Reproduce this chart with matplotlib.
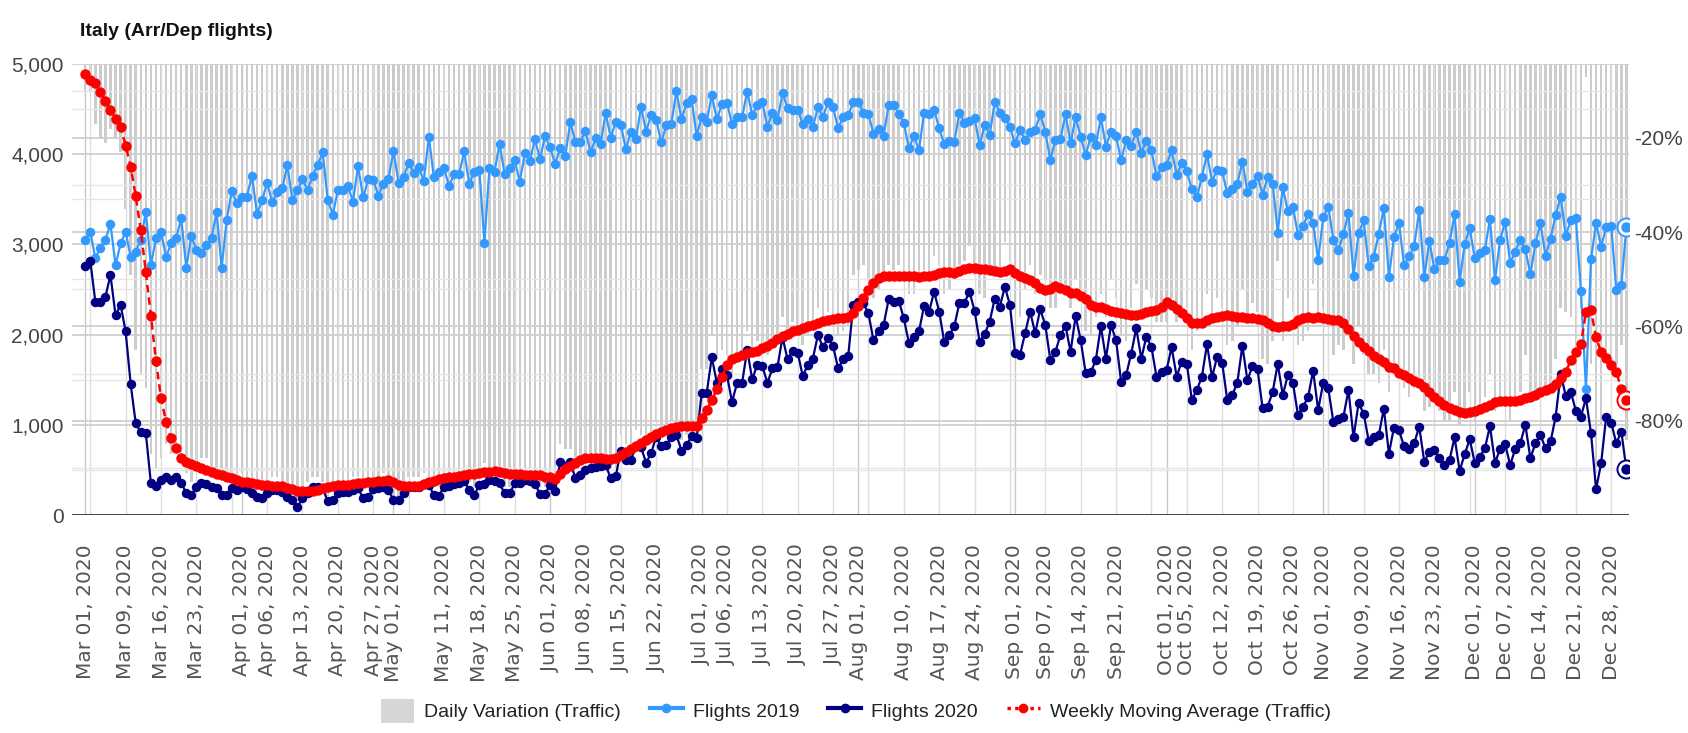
import numpy as np
import pandas as pd
import matplotlib
matplotlib.use('Agg')
import matplotlib.pyplot as plt
from matplotlib.lines import Line2D
from matplotlib.patches import Patch

narrow = ['Liberation Sans', 'DejaVu Sans']

# daily values from Mar 01, 2020 to Dec 31, 2020
start_day = '2020-03-01'

flights_2019 = [
    3050, 3140, 2850, 2960, 3050, 3230, 2770, 3010, 3140, 2860,
    2920, 3050, 3360, 2770, 3070, 3140, 2860, 3010, 3070, 3290,
    2740, 3090, 2940, 2900, 2990, 3070, 3360, 2740, 3270, 3590,
    3460, 3530, 3530, 3760, 3340, 3490, 3680, 3470, 3580, 3620,
    3880, 3490, 3600, 3720, 3600, 3760, 3880, 4020, 3490, 3330,
    3600, 3600, 3645, 3475, 3870, 3520, 3720, 3715, 3540, 3670,
    3720, 4040, 3685, 3750, 3900, 3790, 3855, 3705, 4190, 3745,
    3805, 3845, 3645, 3780, 3780, 4030, 3670, 3805, 3825, 3020,
    3845, 3805, 4115, 3780, 3845, 3935, 3695, 4010, 3930, 4165,
    3945, 4200, 4075, 3890, 4065, 3980, 4355, 4140, 4140, 4260,
    4020, 4175, 4115, 4455, 4185, 4360, 4325, 4055, 4250, 4165,
    4525, 4250, 4435, 4380, 4130, 4325, 4335, 4705, 4385, 4565,
    4610, 4200, 4415, 4360, 4655, 4385, 4555, 4570, 4335, 4410,
    4410, 4695, 4435, 4545, 4580, 4300, 4460, 4380, 4675, 4510,
    4490, 4495, 4335, 4385, 4300, 4520, 4410, 4580, 4520, 4285,
    4415, 4430, 4580, 4580, 4460, 4445, 4225, 4275, 4200, 4545,
    4545, 4445, 4350, 4065, 4200, 4045, 4460, 4445, 4495, 4285,
    4115, 4150, 4140, 4460, 4350, 4370, 4400, 4100, 4325, 4215,
    4580, 4460, 4400, 4305, 4120, 4270, 4155, 4250, 4270, 4445,
    4250, 3935, 4155, 4165, 4445, 4120, 4410, 4195, 3990, 4195,
    4100, 4410, 4085, 4250, 4200, 3935, 4155, 4090, 4250, 4010,
    4150, 4045, 3755, 3855, 3880, 4045, 3770, 3900, 3815, 3610,
    3520, 3750, 4000, 3695, 3830, 3815, 3565, 3610, 3670, 3915,
    3585, 3670, 3760, 3550, 3745, 3675, 3130, 3635, 3365, 3420,
    3105, 3205, 3335, 3235, 2825, 3300, 3420, 3050, 2940, 3115,
    3350, 2650, 3125, 3265, 2760, 2865, 3115, 3405, 2635, 3080,
    3240, 2770, 2870, 2980, 3380, 2635, 3040, 2725, 2825, 2825,
    3020, 3335, 2585, 3005, 3180, 2845, 2900, 2940, 3280, 2600,
    3050, 3250, 2795, 2920, 3050, 2945, 2670, 3010, 3235, 2870,
    3065, 3325, 3530, 3095, 3270, 3290, 2485, 1395, 2835, 3240,
    2975, 3190, 3205, 2495, 2550, 3190,
]

flights_2020 = [
    2760, 2820, 2365, 2365, 2420, 2660, 2215, 2330, 2035, 1450,
    1015, 915, 905, 350, 320, 390, 425, 390, 420, 360,
    240, 220, 315, 350, 345, 305, 295, 220, 220, 295,
    275, 305, 285, 240, 205, 185, 240, 275, 275, 260,
    205, 165, 90, 185, 240, 315, 305, 295, 150, 165,
    240, 255, 260, 275, 295, 185, 205, 285, 295, 315,
    275, 165, 165, 240, 305, 315, 305, 345, 335, 220,
    210, 315, 320, 345, 350, 380, 275, 220, 335, 345,
    390, 380, 350, 240, 240, 350, 360, 390, 380, 345,
    235, 235, 335, 270, 590, 545, 590, 405, 445, 500,
    520, 530, 545, 555, 405, 430, 715, 610, 615, 765,
    750, 580, 685, 870, 760, 775, 870, 885, 715, 775,
    875, 850, 1355, 1355, 1750, 1465, 1615, 1550, 1255, 1460,
    1465, 1830, 1505, 1665, 1650, 1465, 1625, 1645, 1970, 1725,
    1820, 1800, 1540, 1665, 1735, 1995, 1860, 1960, 1875, 1625,
    1725, 1765, 2330, 2365, 2345, 2235, 1935, 2035, 2105, 2390,
    2365, 2375, 2180, 1910, 1975, 2035, 2315, 2255, 2475, 2255,
    1920, 1995, 2090, 2355, 2355, 2475, 2265, 1920, 2005, 2145,
    2400, 2310, 2530, 2330, 1800, 1775, 2015, 2255, 2015, 2280,
    2105, 1720, 1810, 1995, 2095, 1810, 2205, 1940, 1570, 1580,
    1720, 2090, 1735, 2105, 1940, 1480, 1550, 1790, 2070, 1735,
    1975, 1865, 1535, 1590, 1610, 1860, 1535, 1700, 1675, 1280,
    1385, 1535, 1895, 1525, 1755, 1690, 1280, 1330, 1465, 1875,
    1495, 1650, 1615, 1185, 1200, 1365, 1675, 1330, 1550, 1465,
    1110, 1200, 1305, 1600, 1165, 1465, 1405, 1035, 1060, 1090,
    1385, 860, 1240, 1125, 825, 870, 885, 1180, 680, 970,
    940, 760, 730, 795, 980, 590, 700, 720, 630, 555,
    610, 860, 490, 675, 840, 575, 645, 740, 985, 580,
    730, 785, 555, 730, 795, 1000, 630, 795, 885, 740,
    815, 1090, 1565, 1320, 1365, 1155, 1090, 1295, 905, 285,
    575, 1090, 1025, 795, 925, 505,
]

# weekly moving average of the traffic variation (%)
weekly_avg = [
    -6.4, -7.7, -8.3, -10.2, -12.1, -14.0, -15.9, -17.7, -21.6, -26.1,
    -32.4, -39.6, -48.5, -57.7, -67.3, -75.2, -80.2, -83.7, -85.8, -88.0,
    -88.7, -89.2, -89.6, -90.1, -90.5, -90.8, -91.2, -91.5, -91.9, -92.2,
    -92.6, -92.9, -93.1, -93.3, -93.5, -93.6, -93.6, -93.8, -93.8, -93.8,
    -94.2, -94.5, -94.9, -95.0, -95.0, -94.9, -94.8, -94.3, -94.0, -93.8,
    -93.6, -93.6, -93.6, -93.4, -93.2, -93.2, -93.1, -92.9, -92.7, -92.7,
    -92.6, -93.1, -93.6, -93.8, -93.9, -93.9, -93.9, -93.4, -92.9, -92.7,
    -92.4, -92.2, -92.0, -91.9, -91.7, -91.5, -91.3, -91.2, -91.0, -90.9,
    -90.8, -90.6, -90.8, -91.0, -91.2, -91.3, -91.3, -91.5, -91.5, -91.5,
    -91.6, -91.9, -92.0, -92.3, -91.2, -90.3, -89.6, -88.9, -88.3, -88.0,
    -87.9, -87.9, -88.0, -88.1, -88.1, -87.8, -87.3, -86.6, -85.9, -85.4,
    -84.7, -84.1, -83.4, -82.8, -82.3, -82.0, -81.6, -81.4, -81.2, -81.1,
    -81.1, -81.1, -79.5, -77.7, -75.7, -73.3, -70.8, -68.2, -67.0, -66.4,
    -66.0, -65.7, -65.5, -65.1, -64.6, -64.1, -63.4, -62.7, -62.1, -61.5,
    -61.0, -60.7, -60.3, -60.0, -59.6, -59.3, -58.9, -58.7, -58.4, -58.3,
    -58.2, -57.9, -57.1, -55.7, -53.9, -52.2, -50.8, -49.7, -49.3, -49.2,
    -49.2, -49.3, -49.2, -49.2, -49.3, -49.5, -49.3, -49.2, -49.0, -48.6,
    -48.5, -48.5, -48.6, -48.3, -47.9, -47.6, -47.6, -47.8, -47.9, -48.1,
    -48.3, -48.5, -48.3, -47.9, -48.6, -49.2, -49.7, -50.1, -50.8, -51.9,
    -52.2, -52.1, -51.5, -51.9, -52.3, -52.8, -52.9, -53.6, -54.2, -55.4,
    -55.8, -55.9, -56.3, -56.8, -57.0, -57.2, -57.3, -57.5, -57.5, -57.3,
    -57.0, -56.8, -56.6, -55.8, -54.9, -55.4, -56.3, -57.2, -58.2, -59.2,
    -59.3, -59.2, -58.6, -58.2, -58.0, -57.8, -57.5, -57.8, -57.9, -58.0,
    -58.2, -58.2, -58.5, -58.7, -59.3, -59.9, -60.2, -59.9, -59.9, -59.5,
    -58.7, -58.2, -58.0, -58.2, -57.9, -58.2, -58.5, -58.6, -58.7, -59.3,
    -60.6, -62.0, -63.2, -64.3, -65.3, -66.2, -67.0, -67.6, -68.6, -68.9,
    -69.8, -70.3, -70.9, -71.5, -72.0, -72.9, -73.8, -74.9, -75.9, -76.7,
    -77.4, -77.8, -78.1, -78.3, -78.2, -77.9, -77.6, -77.1, -76.6, -76.1,
    -75.8, -75.9, -75.9, -75.8, -75.6, -75.2, -74.9, -74.5, -74.0, -73.5,
    -73.0, -72.3, -71.0, -69.6, -67.2, -65.4, -63.7, -57.0, -56.6, -62.3,
    -65.5, -66.7, -68.1, -69.6, -73.3, -75.6,
]

# daily traffic variation (%)
daily_var = [
    -10, -10, -17, -20, -21, -18, -20, -23, -35, -49,
    -65, -70, -73, -87, -90, -88, -85, -87, -86, -89,
    -91, -93, -89, -88, -88, -90, -91, -92, -93, -92,
    -92, -91, -92, -94, -94, -95, -93, -92, -92, -93,
    -95, -95, -97, -95, -93, -92, -92, -93, -96, -95,
    -93, -93, -93, -92, -92, -95, -94, -92, -92, -91,
    -93, -96, -96, -94, -92, -92, -92, -91, -92, -94,
    -94, -92, -91, -91, -91, -91, -93, -94, -91, -89,
    -90, -90, -91, -94, -94, -91, -90, -90, -90, -92,
    -94, -94, -92, -93, -85, -86, -86, -90, -89, -88,
    -87, -87, -87, -88, -90, -90, -83, -85, -86, -82,
    -83, -86, -85, -80, -82, -82, -80, -81, -84, -83,
    -81, -80, -69, -69, -62, -67, -65, -66, -71, -67,
    -67, -61, -66, -63, -64, -66, -64, -62, -58, -62,
    -59, -60, -64, -62, -60, -56, -58, -57, -59, -62,
    -61, -60, -49, -48, -47, -50, -54, -52, -50, -47,
    -48, -47, -50, -53, -53, -50, -48, -49, -45, -47,
    -53, -52, -50, -47, -46, -43, -49, -53, -54, -49,
    -48, -48, -42, -46, -56, -58, -52, -47, -53, -49,
    -50, -56, -56, -52, -53, -56, -50, -54, -61, -62,
    -58, -53, -58, -50, -54, -62, -63, -56, -51, -57,
    -52, -54, -59, -59, -59, -54, -59, -56, -56, -65,
    -61, -59, -53, -59, -54, -56, -64, -63, -60, -52,
    -58, -55, -57, -67, -68, -63, -46, -63, -54, -57,
    -64, -63, -61, -51, -59, -56, -59, -66, -64, -65,
    -59, -68, -60, -66, -70, -70, -72, -65, -74, -69,
    -71, -73, -75, -73, -71, -78, -77, -74, -78, -80,
    -80, -74, -81, -78, -74, -80, -78, -75, -70, -78,
    -76, -76, -80, -75, -74, -66, -76, -74, -73, -74,
    -73, -67, -56, -57, -58, -65, -56, -7, -68, -91,
    -81, -66, -68, -68, -64, -84,
]

tick_labels = [
    'Mar 01, 2020', 'Mar 09, 2020', 'Mar 16, 2020', 'Mar 23, 2020',
    'Apr 01, 2020', 'Apr 06, 2020', 'Apr 13, 2020', 'Apr 20, 2020', 'Apr 27, 2020',
    'May 01, 2020', 'May 11, 2020', 'May 18, 2020', 'May 25, 2020',
    'Jun 01, 2020', 'Jun 08, 2020', 'Jun 15, 2020', 'Jun 22, 2020',
    'Jul 01, 2020', 'Jul 06, 2020', 'Jul 13, 2020', 'Jul 20, 2020', 'Jul 27, 2020',
    'Aug 01, 2020', 'Aug 10, 2020', 'Aug 17, 2020', 'Aug 24, 2020',
    'Sep 01, 2020', 'Sep 07, 2020', 'Sep 14, 2020', 'Sep 21, 2020',
    'Oct 01, 2020', 'Oct 05, 2020', 'Oct 12, 2020', 'Oct 19, 2020', 'Oct 26, 2020',
    'Nov 01, 2020', 'Nov 09, 2020', 'Nov 16, 2020', 'Nov 23, 2020',
    'Dec 01, 2020', 'Dec 07, 2020', 'Dec 14, 2020', 'Dec 21, 2020', 'Dec 28, 2020',
]

c2019 = '#3399ff'
c2020 = '#000080'
cavg = '#ff0000'
cbar = '#cccccc'

days = pd.date_range(start_day, periods=len(flights_2020), freq='D')
tick_pos = pd.to_datetime(tick_labels, format='%b %d, %Y')

fig = plt.figure(figsize=(16.88, 7.33), dpi=100)
ax = fig.add_axes([0.0427, 0.2974, 0.9223, 0.6153])   # percent axis (bars)
ax_f = ax.twinx()                                      # flights axis
ax_top = ax.twinx()                                    # percent axis on top (moving avg)

for a in (ax, ax_f, ax_top):
    for s in a.spines.values():
        s.set_visible(False)

ax.set_xlim(days[0] - pd.Timedelta(days=2.6), days[-1] + pd.Timedelta(days=0.5))
ax.set_ylim(-100, -4.3)
ax_top.set_ylim(-100, -4.3)
ax_f.set_ylim(0, 5000)

# grid
grid_days = days[(days.dayofweek == 0) | (days.day == 1)]
for d in grid_days:
    ax.axvline(d, color='#c8c8c8' if d.day == 1 else '#dddddd', lw=1.0, zorder=2)
for v in [-90, -70, -50, -30, -10]:
    ax.axhline(v, color='#e6e6e6', lw=1.0, zorder=2)
for v in [-80, -60, -40, -20]:
    ax.axhline(v, color='#cfcfcf', lw=1.3, zorder=2)
for v in [500, 1500, 2500, 3500, 4500]:
    ax_f.axhline(v, color='#e6e6e6', lw=1.0, zorder=0.5)
for v in [1000, 2000, 3000, 4000, 5000]:
    ax_f.axhline(v, color='#cfcfcf', lw=1.3, zorder=0.5)

# daily variation bars
ax.bar(days, daily_var, width=0.5, color=cbar, zorder=1)

# flights
ax_f.plot(days, flights_2019, color=c2019, lw=1.6, marker='o', ms=5.8, zorder=3)
ax_f.plot(days, flights_2020, color=c2020, lw=1.6, marker='o', ms=5.8, zorder=3.1)
ax_f.axhline(0, color='#333333', lw=2, zorder=5)

# weekly moving average
ax_top.plot(days, weekly_avg, color=cavg, lw=1.8, ls=(0, (3, 2)),
            marker='o', ms=6.5, zorder=3)

# highlighted last points
for a, vals, c in ((ax_f, flights_2019, c2019), (ax_f, flights_2020, c2020),
                   (ax_top, weekly_avg, cavg)):
    a.plot(days[-1], vals[-1], 'o', ms=13, mfc='white', mec=c, mew=1.4, zorder=6)
    a.plot(days[-1], vals[-1], 'o', ms=6.5, color=c, zorder=7)
ax_top.set_axis_off()

# ticks
ax.set_xticks(tick_pos)
ax.set_xticklabels(tick_labels, rotation=90, fontsize=14.5, color='#555555',
                   family='DejaVu Sans')
ax.tick_params(axis='x', length=0, pad=21)

ax.yaxis.tick_right()
ax.set_yticks([-80, -60, -40, -20])
ax.set_yticklabels(['-80%', '-60%', '-40%', '-20%'], fontsize=15, color='#444444',
                   family=narrow)
ax.tick_params(axis='y', length=0, pad=4)

ax_f.yaxis.tick_left()
ax_f.set_yticks([0, 1000, 2000, 3000, 4000, 5000])
ax_f.set_yticklabels(['{:,}'.format(v) for v in [0, 1000, 2000, 3000, 4000, 5000]],
                     fontsize=15, color='#444444', family=narrow)
ax_f.tick_params(axis='y', length=0, pad=6)

fig.text(80 / 1688, 1 - 32 / 733, 'Italy (Arr/Dep flights)', fontsize=14,
         fontweight='bold', family=narrow, va='center', color='#111111')

handles = [
    Patch(facecolor='#d6d6d6', edgecolor='none'),
    Line2D([], [], color=c2019, lw=3, marker='o', ms=6),
    Line2D([], [], color=c2020, lw=3, marker='o', ms=6),
    Line2D([], [], color=cavg, lw=2.5, ls=(0, (1, 1.2)), marker='o', ms=6),
]
labels = ['Daily Variation (Traffic)', 'Flights 2019', 'Flights 2020',
          'Weekly Moving Average (Traffic)']
leg = fig.legend(handles, labels, loc='center', bbox_to_anchor=(0.507, 0.03), ncol=4,
                 frameon=False, prop=dict(family=narrow, size=14),
                 handlelength=1.7, handleheight=1.5, columnspacing=1.5,
                 handletextpad=0.5)
for t in leg.get_texts():
    t.set_color('#222222')

fig.savefig('out.png', dpi=100)
